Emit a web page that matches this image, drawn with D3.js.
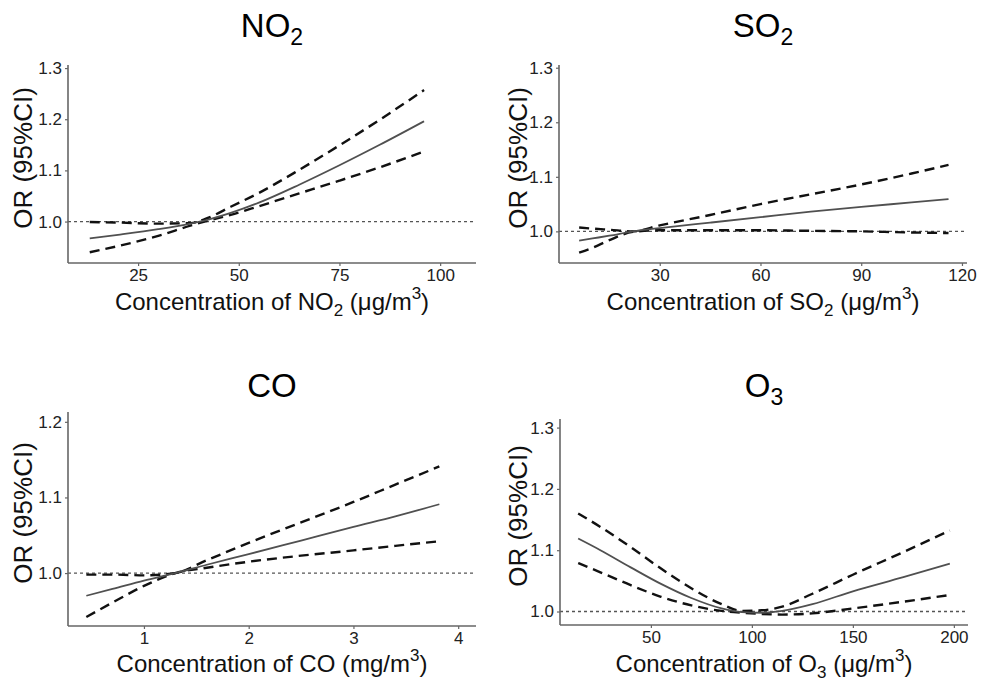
<!DOCTYPE html>
<html>
<head>
<meta charset="utf-8">
<script src="https://cdn.jsdelivr.net/npm/d3@7"></script>
<style>
  html, body { margin: 0; padding: 0; background: #fff; }
  svg { display: block; font-family: "Liberation Sans", Arial, sans-serif; }
</style>
</head>
<body>
<svg id="chart" width="988" height="684"></svg>
<script>
// ---------------- DATA ----------------
const pollutants = ["NO2", "SO2", "CO", "O3"];

// NO2
const no2X     = [13, 20, 30, 38, 42, 48, 55, 65, 75, 85, 96];
const no2OR    = [0.967, 0.974, 0.985, 0.996, 1.003, 1.017, 1.037, 1.072, 1.110, 1.150, 1.196];
const no2Upper = [0.999, 0.998, 0.996, 0.997, 1.006, 1.029, 1.056, 1.101, 1.149, 1.199, 1.257];
const no2Lower = [0.940, 0.952, 0.972, 0.992, 1.001, 1.013, 1.030, 1.055, 1.080, 1.106, 1.137];
const no2XTicks = [25, 50, 75, 100];
const no2YTicks = [1.0, 1.1, 1.2, 1.3];

// SO2
const so2X     = [6, 10, 15, 22, 30, 45, 60, 75, 90, 105, 116];
const so2OR    = [0.983, 0.987, 0.992, 1.000, 1.006, 1.016, 1.026, 1.036, 1.045, 1.053, 1.059];
const so2Upper = [1.007, 1.005, 1.003, 1.000, 1.011, 1.030, 1.050, 1.068, 1.086, 1.106, 1.122];
const so2Lower = [0.961, 0.970, 0.984, 0.999, 1.002, 1.002, 1.002, 1.001, 1.000, 0.998, 0.997];
const so2XTicks = [30, 60, 90, 120];
const so2YTicks = [1.0, 1.1, 1.2, 1.3];

// CO
const coX     = [0.45, 0.7, 1.0, 1.3, 1.6, 2.0, 2.5, 3.0, 3.4, 3.82];
const coOR    = [0.970, 0.979, 0.990, 1.000, 1.011, 1.025, 1.043, 1.061, 1.075, 1.091];
const coUpper = [0.998, 0.998, 0.997, 1.000, 1.017, 1.040, 1.067, 1.094, 1.117, 1.141];
const coLower = [0.942, 0.961, 0.983, 1.000, 1.007, 1.015, 1.023, 1.030, 1.036, 1.042];
const coXTicks = [1, 2, 3, 4];
const coYTicks = [1.0, 1.1, 1.2];

// O3
const o3X     = [14, 25, 40, 55, 70, 85, 95, 105, 115, 130, 150, 175, 198];
const o3OR    = [1.119, 1.100, 1.072, 1.045, 1.022, 1.005, 0.999, 0.998, 1.001, 1.012, 1.033, 1.056, 1.078];
const o3Upper = [1.160, 1.138, 1.105, 1.070, 1.038, 1.012, 1.001, 1.002, 1.008, 1.029, 1.060, 1.097, 1.132];
const o3Lower = [1.079, 1.064, 1.043, 1.024, 1.010, 1.001, 0.998, 0.996, 0.995, 0.997, 1.005, 1.016, 1.027];
const o3XTicks = [50, 100, 150, 200];
const o3YTicks = [1.0, 1.1, 1.2, 1.3];

// ---------------- LAYOUT ----------------
const panels = [
  { name: "NO2", title: ["NO", "2"], xlab: ["Concentration of NO", "2", " (\u03bcg/m", "3", ")"],
    x: no2X, or: no2OR, up: no2Upper, lo: no2Lower, xt: no2XTicks, yt: no2YTicks,
    xd: [7.6, 108.9], yd: [0.919, 1.306], px: [68, 476], py: [263, 65], titleY: 37, ylabX: 32, xlabY: 310 },
  { name: "SO2", title: ["SO", "2"], xlab: ["Concentration of SO", "2", " (\u03bcg/m", "3", ")"],
    x: so2X, or: so2OR, up: so2Upper, lo: so2Lower, xt: so2XTicks, yt: so2YTicks,
    xd: [0, 121.5], yd: [0.942, 1.305], px: [559, 967], py: [263, 65], titleY: 37, ylabX: 527, xlabY: 310 },
  { name: "CO", title: ["CO", ""], xlab: ["Concentration of CO (mg/m", "", "", "3", ")"],
    x: coX, or: coOR, up: coUpper, lo: coLower, xt: coXTicks, yt: coYTicks,
    xd: [0.275, 4.17], yd: [0.930, 1.213], px: [68, 476], py: [626, 412], titleY: 397, ylabX: 32, xlabY: 672 },
  { name: "O3", title: ["O", "3"], xlab: ["Concentration of O", "3", " (\u03bcg/m", "3", ")"],
    x: o3X, or: o3OR, up: o3Upper, lo: o3Lower, xt: o3XTicks, yt: o3YTicks,
    xd: [5.0, 207], yd: [0.978, 1.314], px: [560, 968], py: [625, 419], titleY: 397, ylabX: 527, xlabY: 672 }
];

const svg = d3.select("#chart");

panels.forEach(p => {
  const xs = d3.scaleLinear().domain(p.xd).range(p.px);
  const ys = d3.scaleLinear().domain(p.yd).range(p.py);
  const g = svg.append("g");

  // Reference line at OR = 1
  g.append("line")
    .attr("x1", p.px[0]).attr("x2", p.px[1])
    .attr("y1", ys(1)).attr("y2", ys(1))
    .attr("stroke", "#555").attr("stroke-width", 1.3)
    .attr("stroke-dasharray", "3,3");

  const pts = (arr) => p.x.map((v, i) => [v, arr[i]]);
  const line = d3.line().x(d => xs(d[0])).y(d => ys(d[1])).curve(d3.curveMonotoneX);

  // CI lines
  [p.up, p.lo].forEach(arr => {
    g.append("path").datum(pts(arr))
      .attr("d", line)
      .attr("fill", "none").attr("stroke", "#111")
      .attr("stroke-width", 2.4)
      .attr("stroke-dasharray", "10,6");
  });
  // central estimate
  g.append("path").datum(pts(p.or))
    .attr("d", line)
    .attr("fill", "none").attr("stroke", "#505050")
    .attr("stroke-width", 1.8);

  // Axes
  const xAxis = d3.axisBottom(xs).tickValues(p.xt).tickSize(3).tickPadding(3).tickFormat(d3.format("d"));
  const yAxis = d3.axisLeft(ys).tickValues(p.yt).tickSize(3).tickPadding(3).tickFormat(d3.format(".1f"));
  const gx = g.append("g").attr("transform", `translate(0,${p.py[0]})`).call(xAxis);
  const gy = g.append("g").attr("transform", `translate(${p.px[0]},0)`).call(yAxis);
  [gx, gy].forEach(a => {
    a.select(".domain").attr("stroke", "#666").attr("stroke-width", 1.6);
    a.selectAll(".tick line").attr("stroke", "#666").attr("stroke-width", 1.2);
    a.selectAll(".tick text").attr("fill", "#222").attr("font-size", 17)
      .attr("font-family", "'Liberation Sans', Arial, sans-serif");
  });
  gx.select(".domain").attr("d", `M${p.px[0]},0H${p.px[1]}`);
  gy.select(".domain").attr("d", `M0,${p.py[0]}V${p.py[1]}`);

  // Title
  const cx = (p.px[0] + p.px[1]) / 2;
  const t = g.append("text").attr("x", cx).attr("y", p.titleY)
    .attr("text-anchor", "middle").attr("font-size", 33).attr("fill", "#000");
  t.append("tspan").text(p.title[0]);
  if (p.title[1]) {
    t.append("tspan").attr("font-size", 23).attr("dy", 8).text(p.title[1]);
  }

  // X label
  const xl = g.append("text").attr("x", cx).attr("y", p.xlabY)
    .attr("text-anchor", "middle").attr("font-size", 24).attr("fill", "#111");
  xl.append("tspan").text(p.xlab[0]);
  if (p.xlab[1]) {
    xl.append("tspan").attr("font-size", 17).attr("dy", 6).text(p.xlab[1]);
    xl.append("tspan").attr("dy", -6).text(p.xlab[2]);
  }
  xl.append("tspan").attr("font-size", 17).attr("dy", -11).text(p.xlab[3]);
  xl.append("tspan").attr("dy", 11).text(p.xlab[4]);

  // Y label
  const cy = (p.py[0] + p.py[1]) / 2 - 6;
  g.append("text")
    .attr("transform", `translate(${p.ylabX},${cy}) rotate(-90)`)
    .attr("text-anchor", "middle").attr("font-size", 26).attr("fill", "#111")
    .text("OR (95%CI)");
});
</script>
</body>
</html>
